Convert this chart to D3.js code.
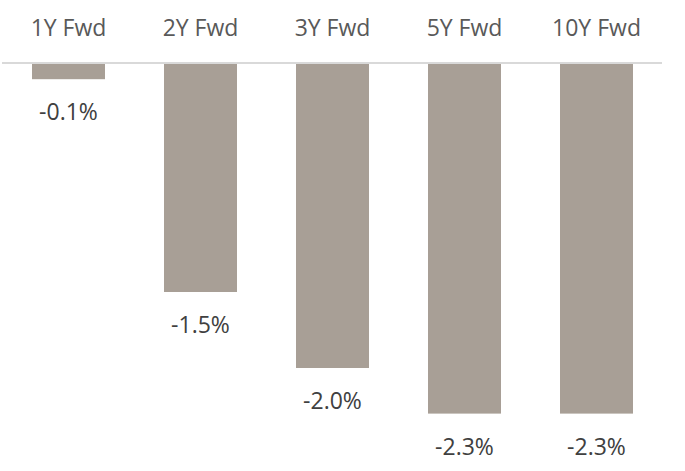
<!DOCTYPE html>
<html>
<head>
<meta charset="utf-8">
<script src="https://cdn.jsdelivr.net/npm/d3@7"></script>
<style>
  html, body { margin: 0; padding: 0; background: #fff; }
  svg { display: block; }
  text { font-family: "Open Sans", "Noto Sans", sans-serif; }
</style>
</head>
<body>
<svg id="chart" width="685" height="471"></svg>
<script>
const categories = ["1Y Fwd", "2Y Fwd", "3Y Fwd", "5Y Fwd", "10Y Fwd"];
const values = [-0.1, -1.5, -2.0, -2.3, -2.3];
const valueLabels = ["-0.1%", "-1.5%", "-2.0%", "-2.3%", "-2.3%"];

const svg = d3.select("#chart");

const x = d3.scaleBand()
  .domain(categories)
  .range([2.5, 662.5])
  .paddingInner(0.447)
  .paddingOuter(0.2235);

const y = d3.scaleLinear()
  .domain([0, -2.5])
  .range([64, 444]);

// bars
svg.append("g").selectAll("rect")
  .data(categories)
  .join("rect")
  .attr("x", d => x(d))
  .attr("width", x.bandwidth())
  .attr("y", y(0))
  .attr("height", (d, i) => y(values[i]) - y(0))
  .attr("fill", "#A89F96");

// baseline
svg.append("line")
  .attr("x1", 2).attr("x2", 662)
  .attr("y1", y(0) - 1).attr("y2", y(0) - 1)
  .attr("stroke", "#D9D9D9")
  .attr("stroke-width", 2);

// category labels (top axis)
const axis = d3.axisTop(x).tickSize(0).tickPadding(0);
const gAxis = svg.append("g")
  .attr("transform", "translate(0,36)")
  .call(axis);
gAxis.select(".domain").remove();
gAxis.selectAll("text")
  .attr("y", 0)
  .attr("dy", 0)
  .attr("font-size", 23)
  .attr("font-family", "'Open Sans', sans-serif")
  .attr("fill", "#595959");

// data labels
svg.append("g").selectAll("text")
  .data(categories)
  .join("text")
  .attr("x", d => x(d) + x.bandwidth() / 2)
  .attr("y", (d, i) => y(values[i]) + 41)
  .attr("text-anchor", "middle")
  .attr("font-size", 23)
  .attr("fill", "#404040")
  .text((d, i) => valueLabels[i]);
</script>
</body>
</html>
